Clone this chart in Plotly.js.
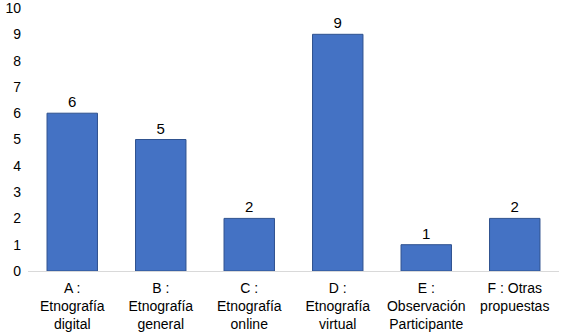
<!DOCTYPE html>
<html><head><meta charset="utf-8">
<script src="https://cdn.plot.ly/plotly-3.0.1.min.js"></script>
<style>html,body{margin:0;padding:0;background:#fff}</style>
</head><body>
<div id="chart" style="width:561px;height:333px"></div>
<script>
var categories = ["A", "B", "C", "D", "E", "F"];
var tickLabels = ["A :<br>Etnografía<br>digital", "B :<br>Etnografía<br>general", "C :<br>Etnografía<br>online", "D :<br>Etnografía<br>virtual", "E :<br>Observación<br>Participante", "F : Otras<br>propuestas"];
var values = [6, 5, 2, 9, 1, 2];
var yTicks = [0, 1, 2, 3, 4, 5, 6, 7, 8, 9, 10];

var trace = {
  type: 'bar',
  x: categories,
  y: values,
  text: values.map(String),
  textposition: 'outside',
  cliponaxis: false,
  textfont: {family: 'Liberation Sans, Arial, sans-serif', size: 15, color: '#000'},
  marker: {color: '#4472C4', line: {color: '#2F528F', width: 1}},
  hoverinfo: 'none'
};

var layout = {
  width: 561, height: 333,
  margin: {l: 28, r: 2, t: 8, b: 62},
  paper_bgcolor: '#fff', plot_bgcolor: '#fff',
  bargap: 0.43,
  showlegend: false,
  font: {family: 'Liberation Sans, Arial, sans-serif', size: 13, color: '#000'},
  xaxis: {
    tickmode: 'array', tickvals: categories, ticktext: tickLabels,
    showline: true, linecolor: '#D9D9D9', linewidth: 1,
    showgrid: false, zeroline: false, ticks: '',
    tickfont: {size: 14, color: '#000'},
    ticklabelstandoff: 4, ticklabeloverflow: 'allow'
  },
  yaxis: {
    range: [0, 10], tickmode: 'array', tickvals: yTicks,
    showgrid: false, zeroline: false,
    showline: false, ticks: '', tickfont: {size: 14, color: '#000'},
    ticklabelstandoff: 6, ticklabeloverflow: 'allow'
  }
};

Plotly.newPlot('chart', [trace], layout, {displayModeBar: false, staticPlot: true});
</script>
</body></html>
